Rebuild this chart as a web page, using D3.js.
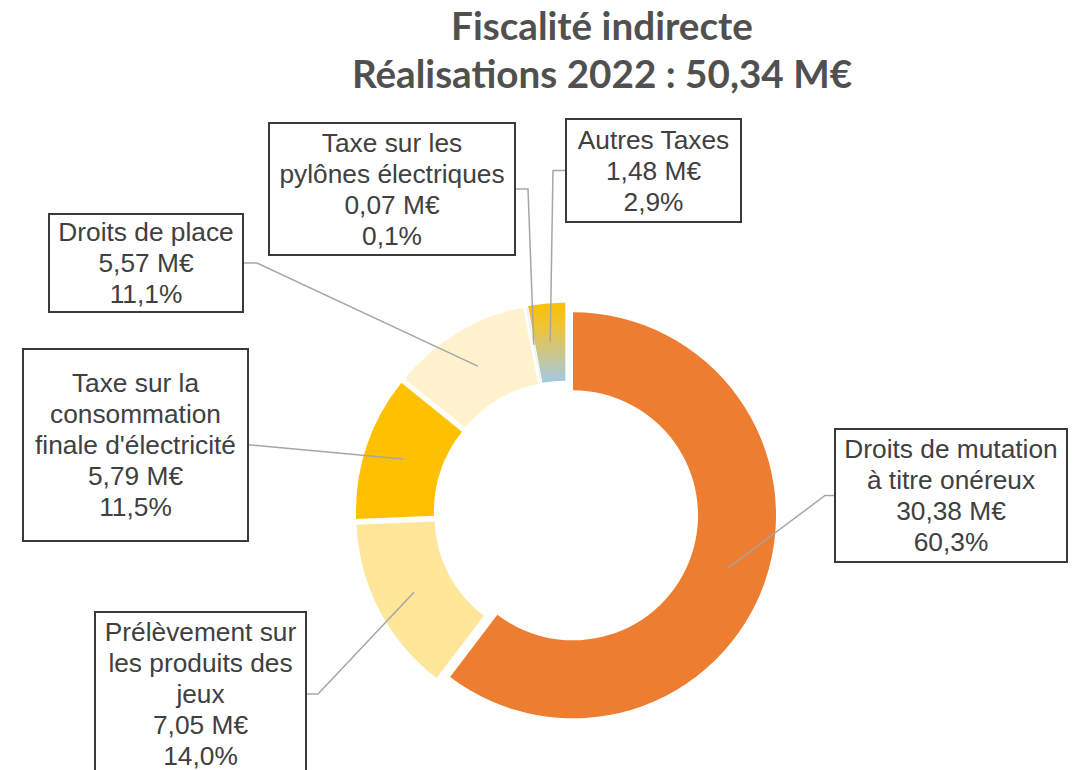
<!DOCTYPE html>
<html>
<head>
<meta charset="utf-8">
<script src="https://cdn.jsdelivr.net/npm/d3@7"></script>
<style>
  html, body { margin: 0; padding: 0; background: #fff; }
  svg { display: block; }
</style>
</head>
<body>
<svg id="chart" width="1081" height="770"></svg>
<script>
// ---- Data ----
const categories = [
  "Droits de mutation à titre onéreux",
  "Prélèvement sur les produits des jeux",
  "Taxe sur la consommation finale d'électricité",
  "Droits de place",
  "Taxe sur les pylônes électriques",
  "Autres Taxes"
];
const values = [30.38, 7.05, 5.79, 5.57, 0.07, 1.48];
const labelLines = [
  ["Droits de mutation", "à titre onéreux"],
  ["Prélèvement sur", "les produits des", "jeux"],
  ["Taxe sur la", "consommation", "finale d'électricité"],
  ["Droits de place"],
  ["Taxe sur les", "pylônes électriques"],
  ["Autres Taxes"]
];
const titleLines = ["Fiscalité indirecte", "Réalisations 2022 : 50,34 M€"];

// ---- Styles / layout ----
const colors = ["#ED7D31", "#FFE699", "#FFC000", "#FFF2CC", "#EEF4FB", "url(#gradAutres)"];
const cx = 566, cy = 513, R = 203, r = 125, explode = 7.4;
// label boxes: [x, y, w, h, side] side = where leader attaches
const boxes = [
  [835, 429, 232, 133, "left"],
  [95, 612, 211, 164, "right"],
  [23, 349, 225, 192, "right"],
  [49, 214, 194, 98, "right"],
  [269, 123, 246, 132, "right"],
  [566, 119, 175, 103, "left"]
];
const elbow = [10, 12, 2, 14, 13, 13];
const lineH = 31;

const svg = d3.select("#chart");
const defs = svg.append("defs");
const g1 = defs.append("linearGradient").attr("id", "gradAutres")
  .attr("x1", 0).attr("y1", 0).attr("x2", 0).attr("y2", 1);
g1.append("stop").attr("offset", "0%").attr("stop-color", "#FAC000");
g1.append("stop").attr("offset", "30%").attr("stop-color", "#EEC43A");
g1.append("stop").attr("offset", "100%").attr("stop-color", "#A3C9E6");

const total = d3.sum(values);
const fmtM = v => d3.format(".2f")(v).replace(".", ",") + " M€";
const fmtP = v => d3.format(".1f")(v / total * 100).replace(".", ",") + "%";

const pie = d3.pie().sort(null).value(d => d);
const arcs = pie(values);
const arc = d3.arc().innerRadius(r).outerRadius(R);

function offset(d) {
  const a = (d.startAngle + d.endAngle) / 2;
  return [Math.sin(a) * explode, -Math.cos(a) * explode];
}

const slices = svg.append("g").attr("transform", `translate(${cx},${cy})`);
slices.selectAll("path").data(arcs).join("path")
  .attr("d", arc)
  .attr("fill", (d, i) => colors[i])
  .attr("transform", d => { const o = offset(d); return `translate(${o[0]},${o[1]})`; });

// Leader lines
const leaders = svg.append("g");
arcs.forEach((d, i) => {
  const o = offset(d);
  const c = arc.centroid(d);
  const end = [cx + o[0] + c[0], cy + o[1] + c[1]];
  const b = boxes[i];
  const ay = b[1] + b[3] / 2;
  const ax = b[4] === "left" ? b[0] : b[0] + b[2];
  const ex = b[4] === "left" ? ax - elbow[i] : ax + elbow[i];
  leaders.append("polyline")
    .attr("points", [[ax, ay], [ex, ay], end].map(p => p.join(",")).join(" "))
    .attr("fill", "none")
    .attr("stroke", "#A6A6A6")
    .attr("stroke-width", 1.5);
});

// Label boxes
const labels = svg.append("g");
arcs.forEach((d, i) => {
  const b = boxes[i];
  labels.append("rect")
    .attr("x", b[0]).attr("y", b[1]).attr("width", b[2]).attr("height", b[3])
    .attr("fill", "#fff").attr("stroke", "#3A3A3A").attr("stroke-width", 2);
  const lines = labelLines[i].concat([fmtM(values[i]), fmtP(values[i])]);
  const midY = b[1] + b[3] / 2;
  const startY = midY - (lines.length - 1) * lineH / 2;
  const t = labels.append("text")
    .attr("text-anchor", "middle")
    .attr("font-family", "'Liberation Sans', Arial, sans-serif")
    .attr("font-size", 26.3)
    .attr("fill", "#404040");
  lines.forEach((ln, k) => {
    t.append("tspan").attr("x", b[0] + b[2] / 2).attr("y", startY + k * lineH)
      .attr("dy", "0.36em").text(ln);
  });
});

// Title
const title = svg.append("g");
const tl1 = title.append("text").attr("x", 602).attr("y", 40)
  .attr("text-anchor", "middle").attr("font-family", "Lato, 'Open Sans', sans-serif")
  .attr("font-weight", 700).attr("font-size", 40).attr("fill", "#505050").text(titleLines[0]);
const w1 = tl1.node().getComputedTextLength();
const fs = 40 * 302 / w1;
tl1.attr("font-size", fs);
title.append("text").attr("x", 602).attr("y", 88)
  .attr("text-anchor", "middle").attr("font-family", "Lato, 'Open Sans', sans-serif")
  .attr("font-weight", 700).attr("font-size", fs).attr("fill", "#505050").text(titleLines[1]);
</script>
</body>
</html>
